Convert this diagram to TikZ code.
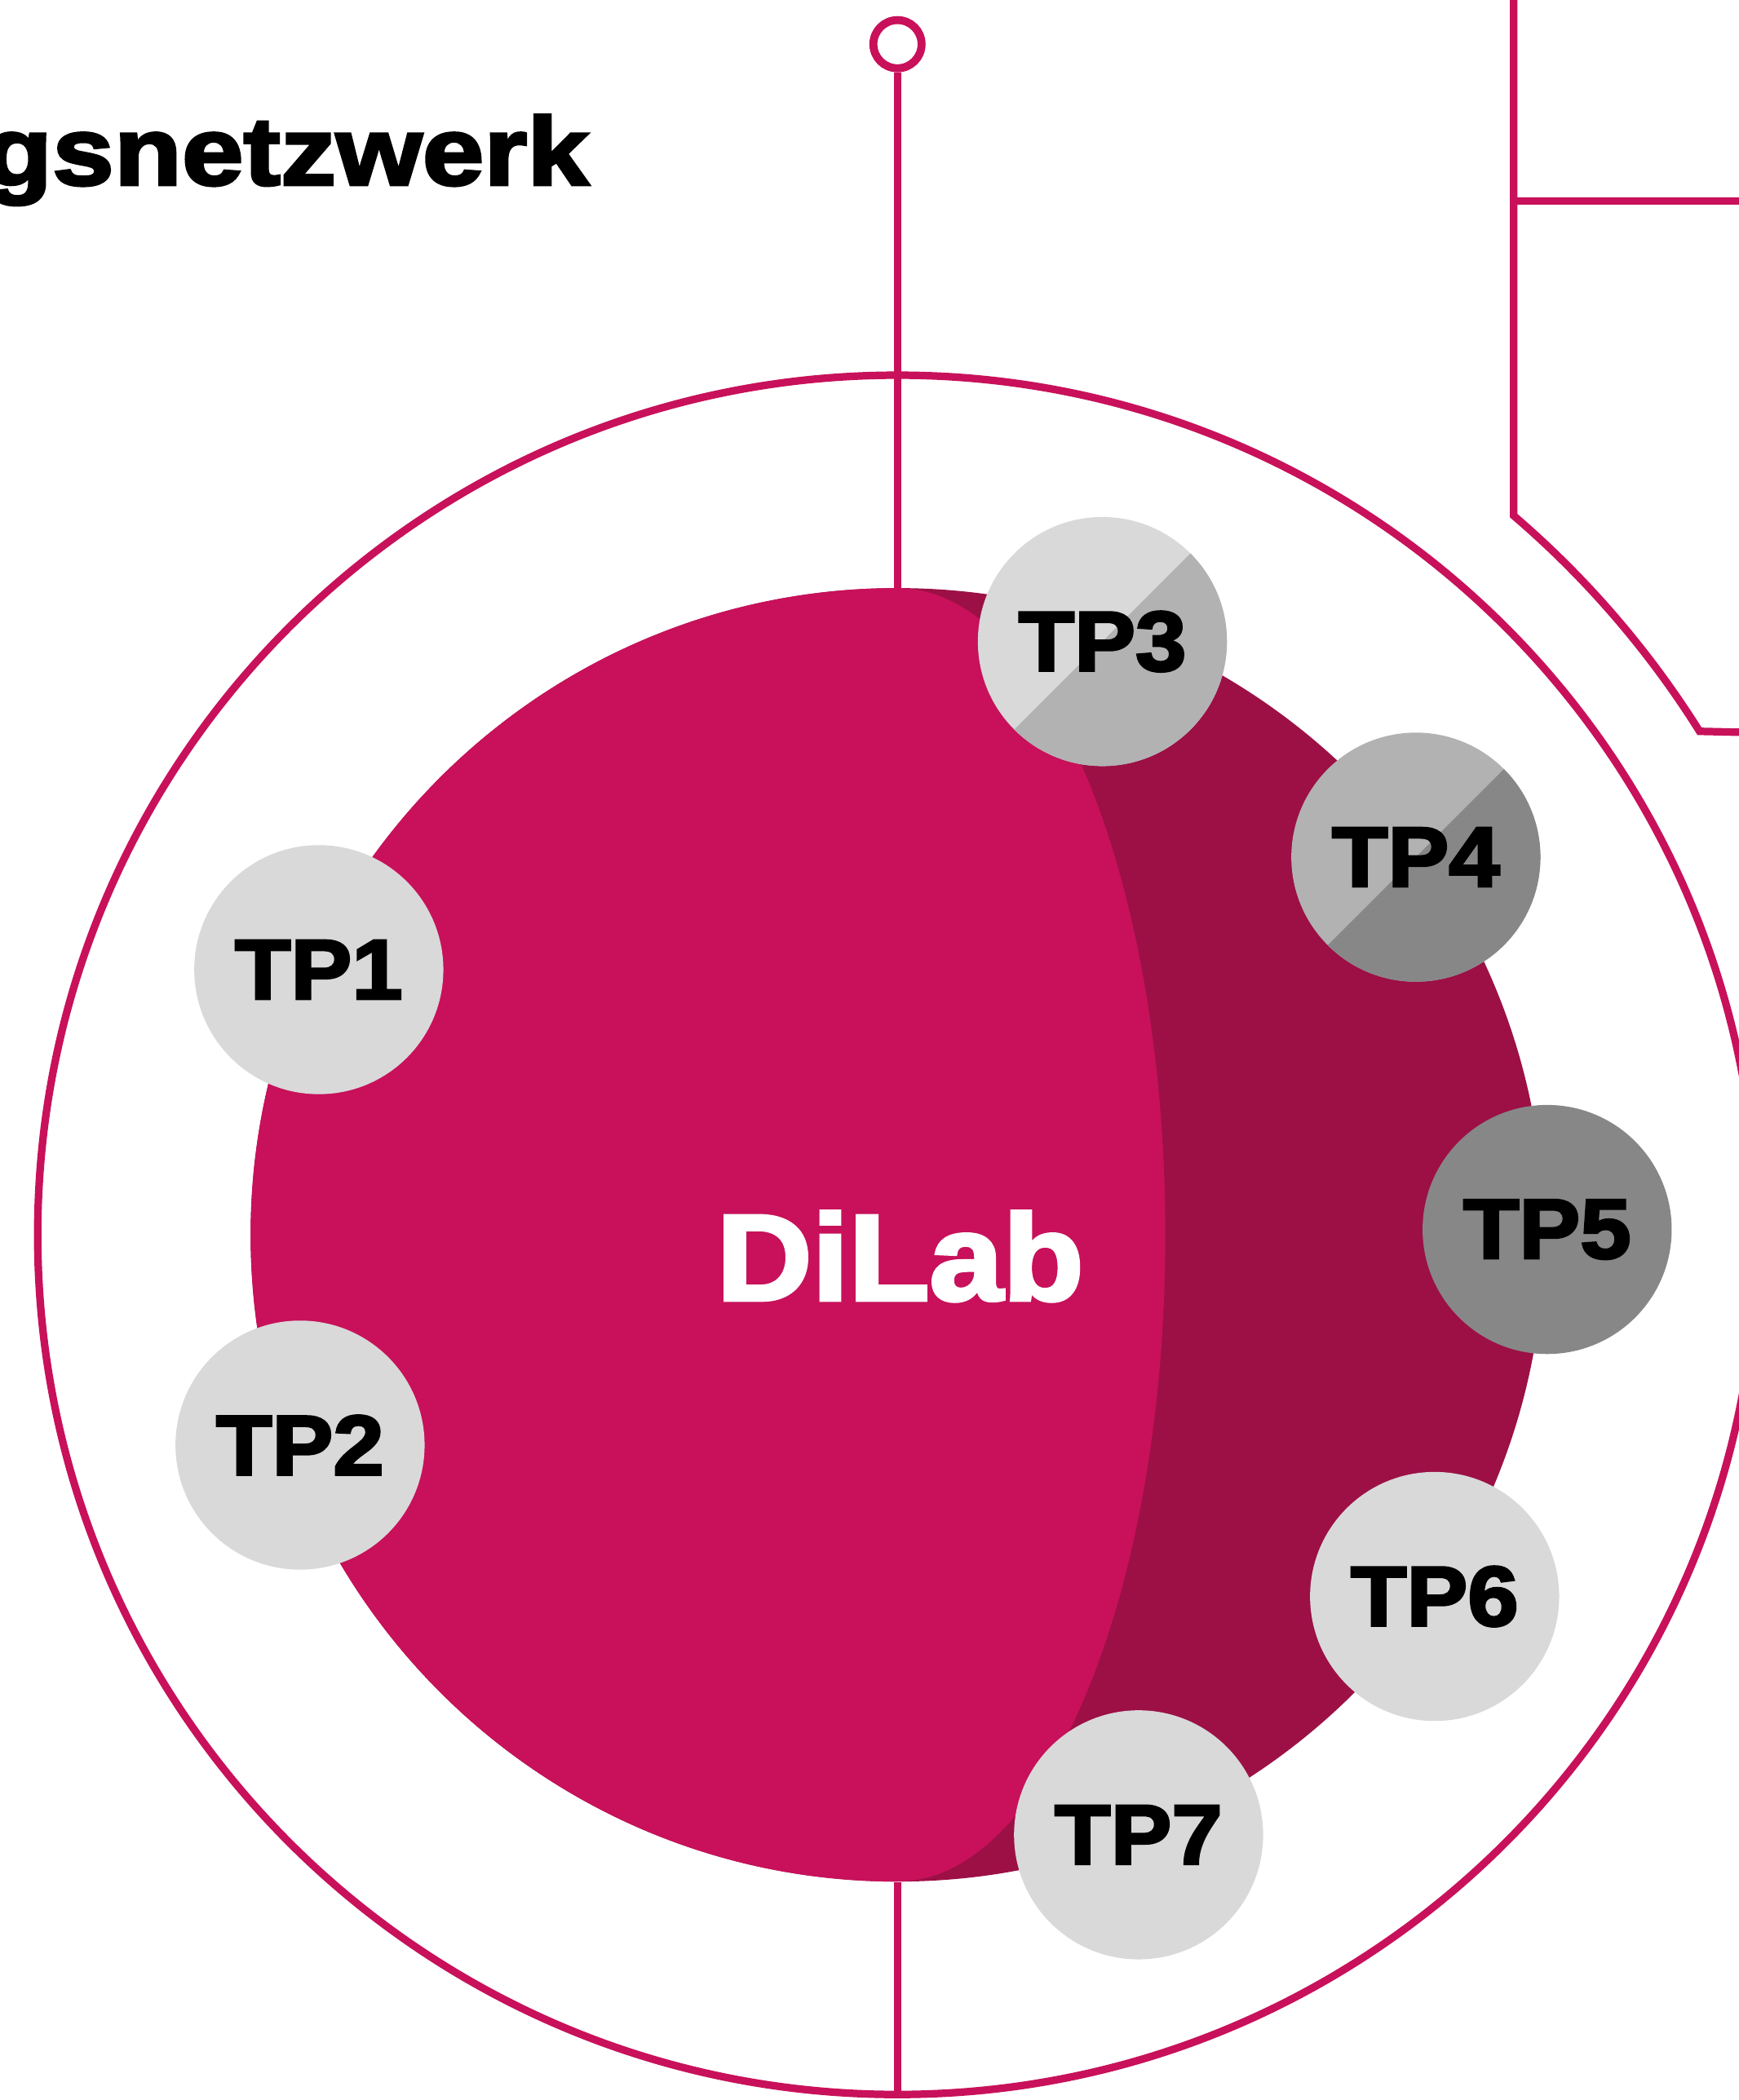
\documentclass[tikz,border=0pt]{standalone}
\usepackage{fontspec}
\newfontfamily\heavyfont[BoldFeatures={FakeBold=3,FakeStretch=1.08}]{Liberation Sans}
\newfontfamily\titlefont[BoldFeatures={FakeBold=3,FakeStretch=1.15}]{Liberation Sans}
\definecolor{mag}{HTML}{C8115A}
\definecolor{magdark}{HTML}{9C1046}
\definecolor{gl}{HTML}{D9D9D9}
\definecolor{gm}{HTML}{B2B2B2}
\definecolor{gd}{HTML}{878787}
\tikzset{
  magline/.style={draw=mag, line width=3.2pt},
  tpnode/.style={circle, minimum size=3.72cm, inner sep=0pt, text=black,
    font=\heavyfont\bfseries\fontsize{36}{36}\selectfont},
}
\begin{document}
\begin{tikzpicture}[x=0.02cm, y=-0.02cm]
\useasboundingbox (0,0) rectangle (1298,1568);
% title
\node[font=\titlefont\bfseries\fontsize{41}{41}\selectfont, anchor=base east, inner sep=0pt] (title) at (440,138) {gsnetzwerk};
% outer ring
\node[circle, draw=mag, line width=3.2pt, minimum size=25.68cm, inner sep=0pt] (outer) at (670,922) {};
% right network lines
\coordinate (r0) at (1130,-10);
\coordinate (rj) at (1130,150);
\coordinate (rE1) at (1310,150);
\coordinate (r1) at (1130,385);
\coordinate (rE2) at (1310,547);
\draw[magline] (r0) -- (r1) arc [start angle=49.4, end angle=32.1, radius=14.14cm] -- (rE2);
\draw[magline] (rj) -- (rE1);
% DiLab core
\node[circle, minimum size=19.32cm, inner sep=0pt, fill=magdark] (dilab) at (670,922) {};
\begin{scope}
  \clip (670,922) circle [radius=9.66cm];
  \fill[mag] (100,400) rectangle (670,1450);
  \fill[mag] (670,922) ellipse [x radius=4cm, y radius=9.66cm];
\end{scope}
\node[font=\heavyfont\bfseries\fontsize{52}{52}\selectfont, text=white, inner sep=0pt] (dilabtext) at (672,938) {DiLab};
% pin and connectors
\node[circle, draw=mag, line width=3.4pt, fill=white, minimum size=0.72cm, inner sep=0pt] (pin) at (670,33) {};
\draw[magline] (pin.south) -- (dilab.north);
\draw[magline] (dilab.south) -- (outer.south);
% TP3 split
\begin{scope}
  \clip (823,479) circle [radius=1.86cm];
  \fill[gl] (600,250) rectangle (1050,710);
  \fill[gm] (623,679) -- (1023,279) -- (1023,679) -- cycle;
\end{scope}
% TP4 split
\begin{scope}
  \clip (1057,640) circle [radius=1.86cm];
  \fill[gm] (850,430) rectangle (1270,850);
  \fill[gd] (857,840) -- (1257,440) -- (1257,840) -- cycle;
\end{scope}
\node[tpnode, fill=gl] (tp1) at (238,724) {TP1};
\node[tpnode, fill=gl] (tp2) at (224,1079) {TP2};
\node[tpnode] (tp3) at (823,479) {TP3};
\node[tpnode] (tp4) at (1057,640) {TP4};
\node[tpnode, fill=gd] (tp5) at (1155,918) {TP5};
\node[tpnode, fill=gl] (tp6) at (1071,1192) {TP6};
\node[tpnode, fill=gl] (tp7) at (850,1370) {TP7};
\end{tikzpicture}
\end{document}
